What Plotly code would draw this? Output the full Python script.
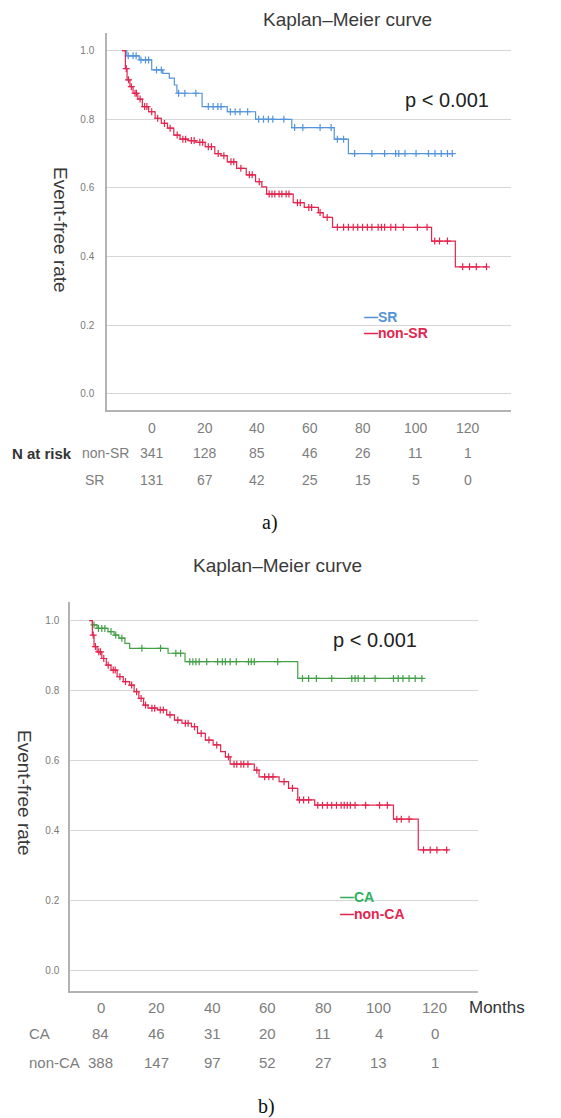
import plotly.graph_objects as go

# page is 561x1118; the html body has an 8px margin, so the figure is 8px smaller
PAGE_W, PAGE_H = 561, 1118
OFF = 8
W, H = PAGE_W - OFF, PAGE_H - OFF
FONT = "Arial, 'Liberation Sans', sans-serif"
SERIF = "'Liberation Serif', 'Times New Roman', serif"

# ---------------- data: panel a (SR vs non-SR) ----------------
sr_event_t = [1.7, 6.1, 10.5, 14.4, 16.7, 18.5, 19.4, 28.3, 37.2, 47.2, 60.0, 75.0, 80.0]
sr_event_s = [0.985, 0.973, 0.944, 0.934, 0.920, 0.900, 0.876, 0.837, 0.822, 0.800, 0.776, 0.742, 0.700]
sr_last_t = 116.7
sr_censor_t = [2.2, 3.9, 5.0, 6.7, 8.3, 9.4, 12.2, 13.9, 20.0, 22.2, 26.1, 30.5, 32.2, 33.9, 35.0,
               38.3, 40.0, 41.7, 44.4, 48.3, 50.0, 51.7, 53.3, 57.2, 61.0, 63.9, 70.0, 73.9,
               76.1, 78.3, 82.2, 88.3, 92.8, 96.7, 97.8, 100.0, 103.9, 108.3, 110.6, 112.8, 115.0, 116.7]

nsr_event_t = [1.2, 1.8, 2.8, 3.9, 5.6, 7.2, 9.4, 11.7, 13.9, 16.1, 18.3, 20.5, 23.3, 26.1, 29.4,
               32.8, 35.0, 37.2, 40.5, 43.9, 47.2, 49.4, 51.1, 60.5, 64.4, 69.4, 71.1, 74.4, 109.4, 117.8]
nsr_event_s = [0.948, 0.915, 0.895, 0.876, 0.859, 0.837, 0.822, 0.803, 0.788, 0.774, 0.754, 0.742,
               0.738, 0.733, 0.720, 0.700, 0.694, 0.676, 0.657, 0.638, 0.618, 0.603, 0.582, 0.557,
               0.543, 0.528, 0.514, 0.485, 0.445, 0.370]
nsr_last_t = 128.8
nsr_censor_t = [1.5, 2.3, 3.3, 4.6, 5.1, 6.4, 8.0, 8.8, 10.5, 12.6, 15.0, 17.0, 19.5, 21.5, 22.5,
                24.5, 25.5, 27.5, 28.5, 30.5, 31.6, 34.0, 36.0, 38.5, 39.5, 42.0, 45.0, 46.0, 48.5,
                52.0, 53.0, 54.0, 55.5, 56.5, 58.0, 59.0, 62.0, 63.0, 66.0, 67.0, 70.0, 72.5,
                76.1, 78.3, 80.0, 81.7, 83.3, 85.0, 86.7, 88.3, 90.5, 91.7, 92.8, 95.0, 96.7, 99.4,
                104.4, 107.8, 110.5, 112.2, 115.0, 120.4, 122.8, 125.2, 128.8]

# ---------------- data: panel b (CA vs non-CA) ----------------
ca_event_t = [1.1, 2.8, 6.7, 8.9, 10.6, 12.8, 14.5, 28.3, 34.4, 74.9]
ca_event_s = [0.988, 0.978, 0.969, 0.959, 0.950, 0.935, 0.921, 0.907, 0.883, 0.835]
ca_last_t = 119.5
ca_censor_t = [1.7, 3.3, 4.5, 5.6, 7.8, 9.5, 11.7, 18.9, 25.6, 31.1, 32.8, 36.1, 37.2, 38.3, 39.5,
               42.2, 46.1, 47.8, 48.9, 50.6, 52.8, 57.2, 58.2, 59.3, 67.7, 76.6, 78.8, 81.6, 87.1,
               94.3, 95.5, 96.6, 98.8, 102.7, 109.3, 111.0, 112.7, 114.9, 117.1, 119.5]

nca_event_t = [1.1, 1.7, 2.8, 4.5, 6.1, 7.8, 10.0, 12.2, 14.5, 16.1, 17.8, 19.5, 21.1, 24.5, 27.8,
               30.6, 33.3, 36.7, 38.9, 41.7, 44.5, 47.2, 48.9, 50.6, 59.3, 61.0, 68.2, 71.6, 74.9,
               81.0, 109.3, 118.2]
nca_event_s = [0.959, 0.926, 0.911, 0.892, 0.873, 0.859, 0.840, 0.826, 0.816, 0.797, 0.778, 0.759,
               0.750, 0.745, 0.731, 0.716, 0.707, 0.697, 0.678, 0.659, 0.645, 0.626, 0.611, 0.590,
               0.573, 0.554, 0.540, 0.521, 0.488, 0.473, 0.433, 0.345]
nca_last_t = 128.9
nca_censor_t = [1.4, 2.2, 3.4, 4.0, 5.2, 6.8, 8.6, 9.3, 11.0, 13.0, 15.2, 17.0, 18.6, 20.2, 22.5,
                23.5, 25.5, 26.6, 29.0, 31.8, 34.5, 35.5, 37.8, 40.2, 43.0, 45.8, 50.0, 52.0, 53.0,
                54.5, 55.5, 57.0, 60.2, 63.0, 64.5, 66.0, 70.0, 73.0, 75.5, 77.0, 78.8,
                82.1, 83.8, 85.5, 87.1, 88.8, 90.5, 91.6, 92.7, 93.8, 95.5, 99.3, 104.3, 107.1,
                110.5, 112.1, 114.9, 120.1, 122.5, 124.9, 128.4]

# ---------------- at-risk tables ----------------
risk_times = [0, 20, 40, 60, 80, 100, 120]
risk_a_nonsr = [341, 128, 85, 46, 26, 11, 1]
risk_a_sr = [131, 67, 42, 25, 15, 5, 0]
risk_b_ca = [84, 46, 31, 20, 11, 4, 0]
risk_b_nonca = [388, 147, 97, 52, 27, 13, 1]

y_ticks = [0.0, 0.2, 0.4, 0.6, 0.8, 1.0]

BLUE = "#5394da"
RED = "#e2264f"
GREEN = "#43a047"
GREEN_TXT = "#2fb060"
GRAYT = "#7d7d7d"


def km_path(ev_t, ev_s, last_t):
    xs = [0.0] + list(ev_t) + [last_t]
    ys = [1.0] + list(ev_s) + [ev_s[-1]]
    return xs, ys


def surv_at(t, ev_t, ev_s):
    s = 1.0
    for te, se in zip(ev_t, ev_s):
        if te <= t:
            s = se
    return s


def fx(p):  # page pixel column -> paper x
    return (p - OFF) / W


def fy(p):  # page pixel row -> paper y
    return 1 - (p - OFF) / H


fig = go.Figure()


def add_km(ev_t, ev_s, last_t, cens, color, xa, ya, name):
    xs, ys = km_path(ev_t, ev_s, last_t)
    fig.add_trace(go.Scatter(x=xs, y=ys, mode="lines", line=dict(color=color, width=1.2, shape="hv"),
                             xaxis=xa, yaxis=ya, showlegend=False, name=name, hoverinfo="skip"))
    fig.add_trace(go.Scatter(x=cens, y=[surv_at(t, ev_t, ev_s) for t in cens], mode="markers",
                             marker=dict(symbol="cross-thin", size=5, line=dict(color=color, width=1.2)),
                             xaxis=xa, yaxis=ya, showlegend=False, name=name, hoverinfo="skip"))


add_km(sr_event_t, sr_event_s, sr_last_t, sr_censor_t, BLUE, "x", "y", "SR")
add_km(nsr_event_t, nsr_event_s, nsr_last_t, nsr_censor_t, RED, "x", "y", "non-SR")
add_km(ca_event_t, ca_event_s, ca_last_t, ca_censor_t, GREEN, "x2", "y2", "CA")
add_km(nca_event_t, nca_event_s, nca_last_t, nca_censor_t, RED, "x2", "y2", "non-CA")

# invisible anchors for the at-risk table axes
fig.add_trace(go.Scatter(x=[], y=[], xaxis="x3", yaxis="y3", showlegend=False))
fig.add_trace(go.Scatter(x=[], y=[], xaxis="x4", yaxis="y3", showlegend=False))

GRID = "#d6d6d6"
AXL = "#b3b3b3"

yax_common = dict(tickvals=y_ticks, ticktext=[f"{v:.1f}" for v in y_ticks], showgrid=True,
                  gridcolor=GRID, gridwidth=1, showline=True, linecolor=AXL, linewidth=1.5,
                  zeroline=False, ticks="", tickfont=dict(size=10, color="#7a7a7a", family=FONT),
                  fixedrange=True)
xax_common = dict(showgrid=False, showline=True, linecolor=AXL, linewidth=1.5, zeroline=False,
                  showticklabels=False, ticks="", fixedrange=True)

fig.update_layout(
    width=W, height=H, autosize=False,
    margin=dict(l=0, r=0, t=0, b=0),
    paper_bgcolor="white", plot_bgcolor="rgba(0,0,0,0)",
    font=dict(family=FONT),
    xaxis=dict(domain=[fx(107), fx(511)], range=[-5.30, 137.46], anchor="y", **xax_common),
    yaxis=dict(domain=[fy(410), fy(33)], range=[-0.0475, 1.0516], anchor="x",
               ticklabelstandoff=9, **yax_common),
    xaxis2=dict(domain=[fx(70), fx(478)], range=[-6.935, 139.67], anchor="y2", **xax_common),
    yaxis2=dict(domain=[fy(991), fy(602)], range=[-0.058, 1.0534], anchor="x2",
                ticklabelstandoff=7, **yax_common),
    xaxis3=dict(domain=[0, 1], range=[-54.71, 155.24], visible=False, anchor="y3", fixedrange=True),
    xaxis4=dict(domain=[0, 1], range=[-33.45, 165.47], visible=False, anchor="y3", fixedrange=True),
    yaxis3=dict(domain=[0, 1], range=[0, 1], visible=False, anchor="x3", fixedrange=True),
)

ann = []


def txt(x, y, text, size, color="#333", xanchor="center", xref="paper", bold=False,
        family=FONT, angle=0):
    if bold:
        text = f"<b>{text}</b>"
    ann.append(dict(x=x, y=y, xref=xref, yref="paper", text=text, showarrow=False,
                    xanchor=xanchor, yanchor="middle", textangle=angle,
                    font=dict(size=size, color=color, family=family)))


# titles, p-values, axis titles
txt(fx(347), fy(19), "Kaplan–Meier curve", 19, "#3a3a3a")
txt(fx(277), fy(565), "Kaplan–Meier curve", 19, "#3a3a3a")
txt(fx(447), fy(100), "p &lt; 0.001", 20, "#222")
txt(fx(375), fy(640), "p &lt; 0.001", 20, "#222")
txt(fx(60), fy(230), "Event-free rate", 19, "#3a3a3a", angle=90)
txt(fx(25), fy(793), "Event-free rate", 19, "#3a3a3a", angle=90)

# legends
txt(fx(362), fy(317), "—SR", 14, BLUE, xanchor="left", bold=True)
txt(fx(362), fy(333), "—non-SR", 14, RED, xanchor="left", bold=True)
txt(fx(338), fy(897), "—CA", 14, GREEN_TXT, xanchor="left", bold=True)
txt(fx(338), fy(914), "—non-CA", 14, RED, xanchor="left", bold=True)

# at-risk table a
for t, a, b in zip(risk_times, risk_a_nonsr, risk_a_sr):
    txt(t, fy(428), str(t), 14, GRAYT, xref="x3")
    txt(t, fy(453), str(a), 14, GRAYT, xref="x3")
    txt(t, fy(480), str(b), 14, GRAYT, xref="x3")
txt(fx(10), fy(453), "N at risk", 15, "#333", xanchor="left", bold=True)
txt(fx(80), fy(453), "non-SR", 14, GRAYT, xanchor="left")
txt(fx(83), fy(480), "SR", 14, GRAYT, xanchor="left")

# at-risk table b
for t, a, b in zip(risk_times, risk_b_ca, risk_b_nonca):
    txt(t, fy(1007), str(t), 15, GRAYT, xref="x4")
    txt(t, fy(1033), str(a), 15, GRAYT, xref="x4")
    txt(t, fy(1062), str(b), 15, GRAYT, xref="x4")
txt(fx(467), fy(1007), "Months", 17, "#333", xanchor="left")
txt(fx(27), fy(1033), "CA", 15, GRAYT, xanchor="left")
txt(fx(27), fy(1062), "non-CA", 15, GRAYT, xanchor="left")

# panel labels
txt(fx(270), fy(523), "a)", 20, "#111", family=SERIF)
txt(fx(266), fy(1106), "b)", 20, "#111", family=SERIF)

fig.update_layout(annotations=ann)
fig.write_html("out.html")
